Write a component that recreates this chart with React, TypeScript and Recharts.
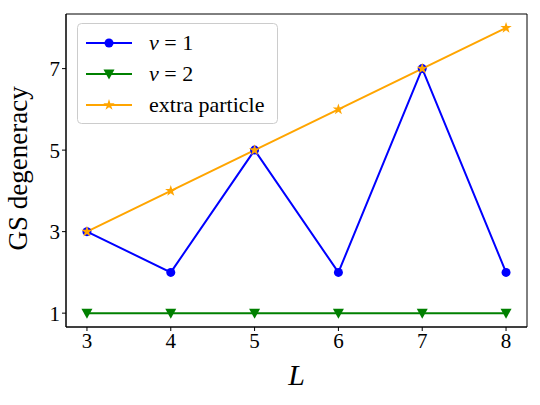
import { Line, LineChart, Symbols, XAxis, YAxis, Legend, ReferenceArea } from "recharts";

const L_VALUES = [3, 4, 5, 6, 7, 8];
const NU1 = [3, 2, 5, 2, 7, 2];
const NU2 = [1, 1, 1, 1, 1, 1];
const EXTRA = [3, 4, 5, 6, 7, 8];
const Y_TICKS = [1, 3, 5, 7];
const X_TICKS = [3, 4, 5, 6, 7, 8];

const data = L_VALUES.map((L, i) => ({ L, nu1: NU1[i], nu2: NU2[i], extra: EXTRA[i] }));

const FONT = "'Liberation Serif', 'DejaVu Serif', serif";
const X_DOMAIN = [2.75, 8.25];
const Y_DOMAIN = [0.66, 8.34];

const Circle = (props: any) => (
  <circle key={props.key} cx={props.cx} cy={props.cy} r={4.5} fill="#0000ff" />
);

const TriDown = (props: any) => {
  const { cx, cy } = props;
  const s = 5.5;
  return (
    <path
      key={props.key}
      d={`M${cx - s},${cy - s * 0.8} L${cx + s},${cy - s * 0.8} L${cx},${cy + s} Z`}
      fill="#008000"
    />
  );
};

const Star = (props: any) => (
  <Symbols key={props.key} cx={props.cx} cy={props.cy} type="star" size={40} fill="#ffa500" />
);

function LegendBox() {
  const rows = [
    { color: "#0000ff", label: <><tspan fontStyle="italic">ν</tspan> = 1</>, marker: "c" },
    { color: "#008000", label: <><tspan fontStyle="italic">ν</tspan> = 2</>, marker: "t" },
    { color: "#ffa500", label: <>extra particle</>, marker: "s" },
  ];
  return (
    <svg width={202} height={102} style={{ position: "absolute", left: 77, top: 23 }}>
      <rect x={0.5} y={0.5} width={200} height={100} rx={4} fill="white" stroke="#cccccc" />
      {rows.map((r, i) => {
        const y = 20 + i * 31;
        return (
          <g key={i}>
            <line x1={9} x2={55} y1={y} y2={y} stroke={r.color} strokeWidth={2} />
            {r.marker === "c" && <circle cx={32} cy={y} r={4.5} fill={r.color} />}
            {r.marker === "t" && (
              <path d={`M26.5,${y - 4.4} L37.5,${y - 4.4} L32,${y + 5.5} Z`} fill={r.color} />
            )}
            {r.marker === "s" && <Symbols cx={32} cy={y} type="star" size={40} fill={r.color} />}
            <text x={72} y={y + 7} fontSize={22} fontFamily={FONT} fill="#000">
              {r.label}
            </text>
          </g>
        );
      })}
    </svg>
  );
}

export default function App() {
  return (
    <div style={{ position: "absolute", left: 0, top: 0, width: 540, height: 405, background: "white" }}>
      <LineChart width={540} height={405} data={data} margin={{ top: 14, right: 13, left: 26, bottom: 0 }}>
        <XAxis
          dataKey="L"
          type="number"
          domain={X_DOMAIN}
          ticks={X_TICKS}
          height={78}
          tickSize={4}
          tickLine={{ stroke: "#000" }}
          axisLine={{ stroke: "#000" }}
          tick={{ fontSize: 21, fontFamily: FONT, fill: "#000" }}
          label={{ value: "L", position: "insideTop", dy: 32, fontSize: 30, fontStyle: "italic", fontFamily: FONT, fill: "#000" }}
        />
        <YAxis
          type="number"
          domain={Y_DOMAIN}
          ticks={Y_TICKS}
          width={40}
          tickSize={4}
          tickLine={{ stroke: "#000" }}
          axisLine={{ stroke: "#000" }}
          tick={{ fontSize: 21, fontFamily: FONT, fill: "#000" }}
          label={{ value: "GS degeneracy", angle: -90, position: "insideLeft", dx: -14, dy: 80, fontSize: 27, fontFamily: FONT, fill: "#000" }}
        />
        <ReferenceArea
          x1={X_DOMAIN[0]}
          x2={X_DOMAIN[1]}
          y1={Y_DOMAIN[0]}
          y2={Y_DOMAIN[1]}
          fill="none"
          stroke="#000"
          strokeWidth={1}
          ifOverflow="visible"
        />
        <Line dataKey="nu1" stroke="#0000ff" strokeWidth={2} dot={Circle} activeDot={false} isAnimationActive={false} />
        <Line dataKey="nu2" stroke="#008000" strokeWidth={2} dot={TriDown} activeDot={false} isAnimationActive={false} />
        <Line dataKey="extra" stroke="#ffa500" strokeWidth={2} dot={Star} activeDot={false} isAnimationActive={false} />
        <Legend content={() => <LegendBox />} wrapperStyle={{ position: "absolute", left: 0, top: 0, width: 0, height: 0 }} />
      </LineChart>
    </div>
  );
}
